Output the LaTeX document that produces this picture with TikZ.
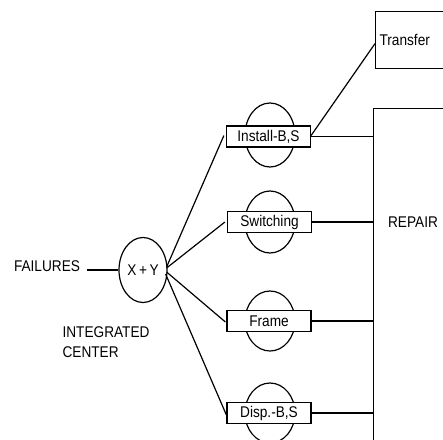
\documentclass[tikz,border=0pt]{standalone}
\usepackage{fontspec}
\setmainfont[FakeStretch=0.88]{Liberation Sans}
\usetikzlibrary{shapes.geometric}
\begin{document}
\begin{tikzpicture}[x=1pt,y=-1pt,line width=1.2pt,
  lbl/.style={font=\fontsize{15.5}{18}\selectfont,inner sep=0pt},
  oval/.style={draw,ellipse,minimum width=50pt,minimum height=62pt,inner sep=0pt},
  unitbox/.style={draw,fill=white,rectangle,minimum width=84pt,minimum height=21pt,inner sep=0pt,font=\fontsize{15.5}{18}\selectfont}]
\useasboundingbox (0,0) rectangle (443,439);
\clip (0,0) rectangle (443,439);
% left part
\node[lbl] (fail) at (47,266) {FAILURES};
\node[draw,ellipse,minimum width=48pt,minimum height=65pt,inner sep=0pt,font=\fontsize{15.5}{18}\selectfont] (xy) at (143,270) {X\,+\,Y};
\node[lbl,align=left,anchor=north west] (ic) at (62,326) {INTEGRATED\\[2pt]CENTER};
\path (fail.east) ++(6,4) coordinate (fe);
\draw (fe) -- (xy.west |- fe);
% circles behind boxes
\node[oval,minimum height=64pt] (c1) at (270,135) {};
\node[oval] (c2) at (270,222) {};
\node[oval,minimum height=60pt] (c3) at (270,321) {};
\node[oval,minimum height=60pt] (c4) at (270,413) {};
% boxes
\node[unitbox] (b1) at (268.5,136.5) {Install-B,S};
\node[unitbox] (b2) at (269.5,222) {Switching};
\node[unitbox] (b3) at (269,321) {Frame};
\node[unitbox] (b4) at (269,413) {Disp.-B,S};
% right boxes
\node[draw,rectangle,minimum width=110pt,minimum height=400pt,inner sep=0pt,anchor=north west] (repair) at (373,108) {};
\node[lbl] (reptxt) at (413,222) {REPAIR};
\node[draw,rectangle,text width=82pt,inner xsep=4pt,minimum height=57pt,align=left,anchor=north west,font=\fontsize{15.5}{18}\selectfont] (transfer) at (375,11) {Transfer};
% connectors from X+Y
\draw ([shift={(-1,-3)}]xy.east) -- ([shift={(-2,-1)}]b1.west);
\draw ([shift={(-1,-2)}]xy.east) -- ([shift={(-2,0)}]b2.west);
\draw ([shift={(-1,2)}]xy.east) -- ([shift={(-1,1)}]b3.west);
\draw ([shift={(-2,4)}]xy.east) -- ([shift={(0,2)}]b4.west);
% connectors to REPAIR
\draw (b1.east) -- (b1.east -| repair.west);
\draw (b2.east) -- (b2.east -| repair.west);
\draw (b3.east) -- (b3.east -| repair.west);
\draw (b4.east) -- (b4.east -| repair.west);
% connector to Transfer
\draw ([shift={(0,-1)}]b1.east) -- ([shift={(0,3.5)}]transfer.west);
\end{tikzpicture}
\end{document}
